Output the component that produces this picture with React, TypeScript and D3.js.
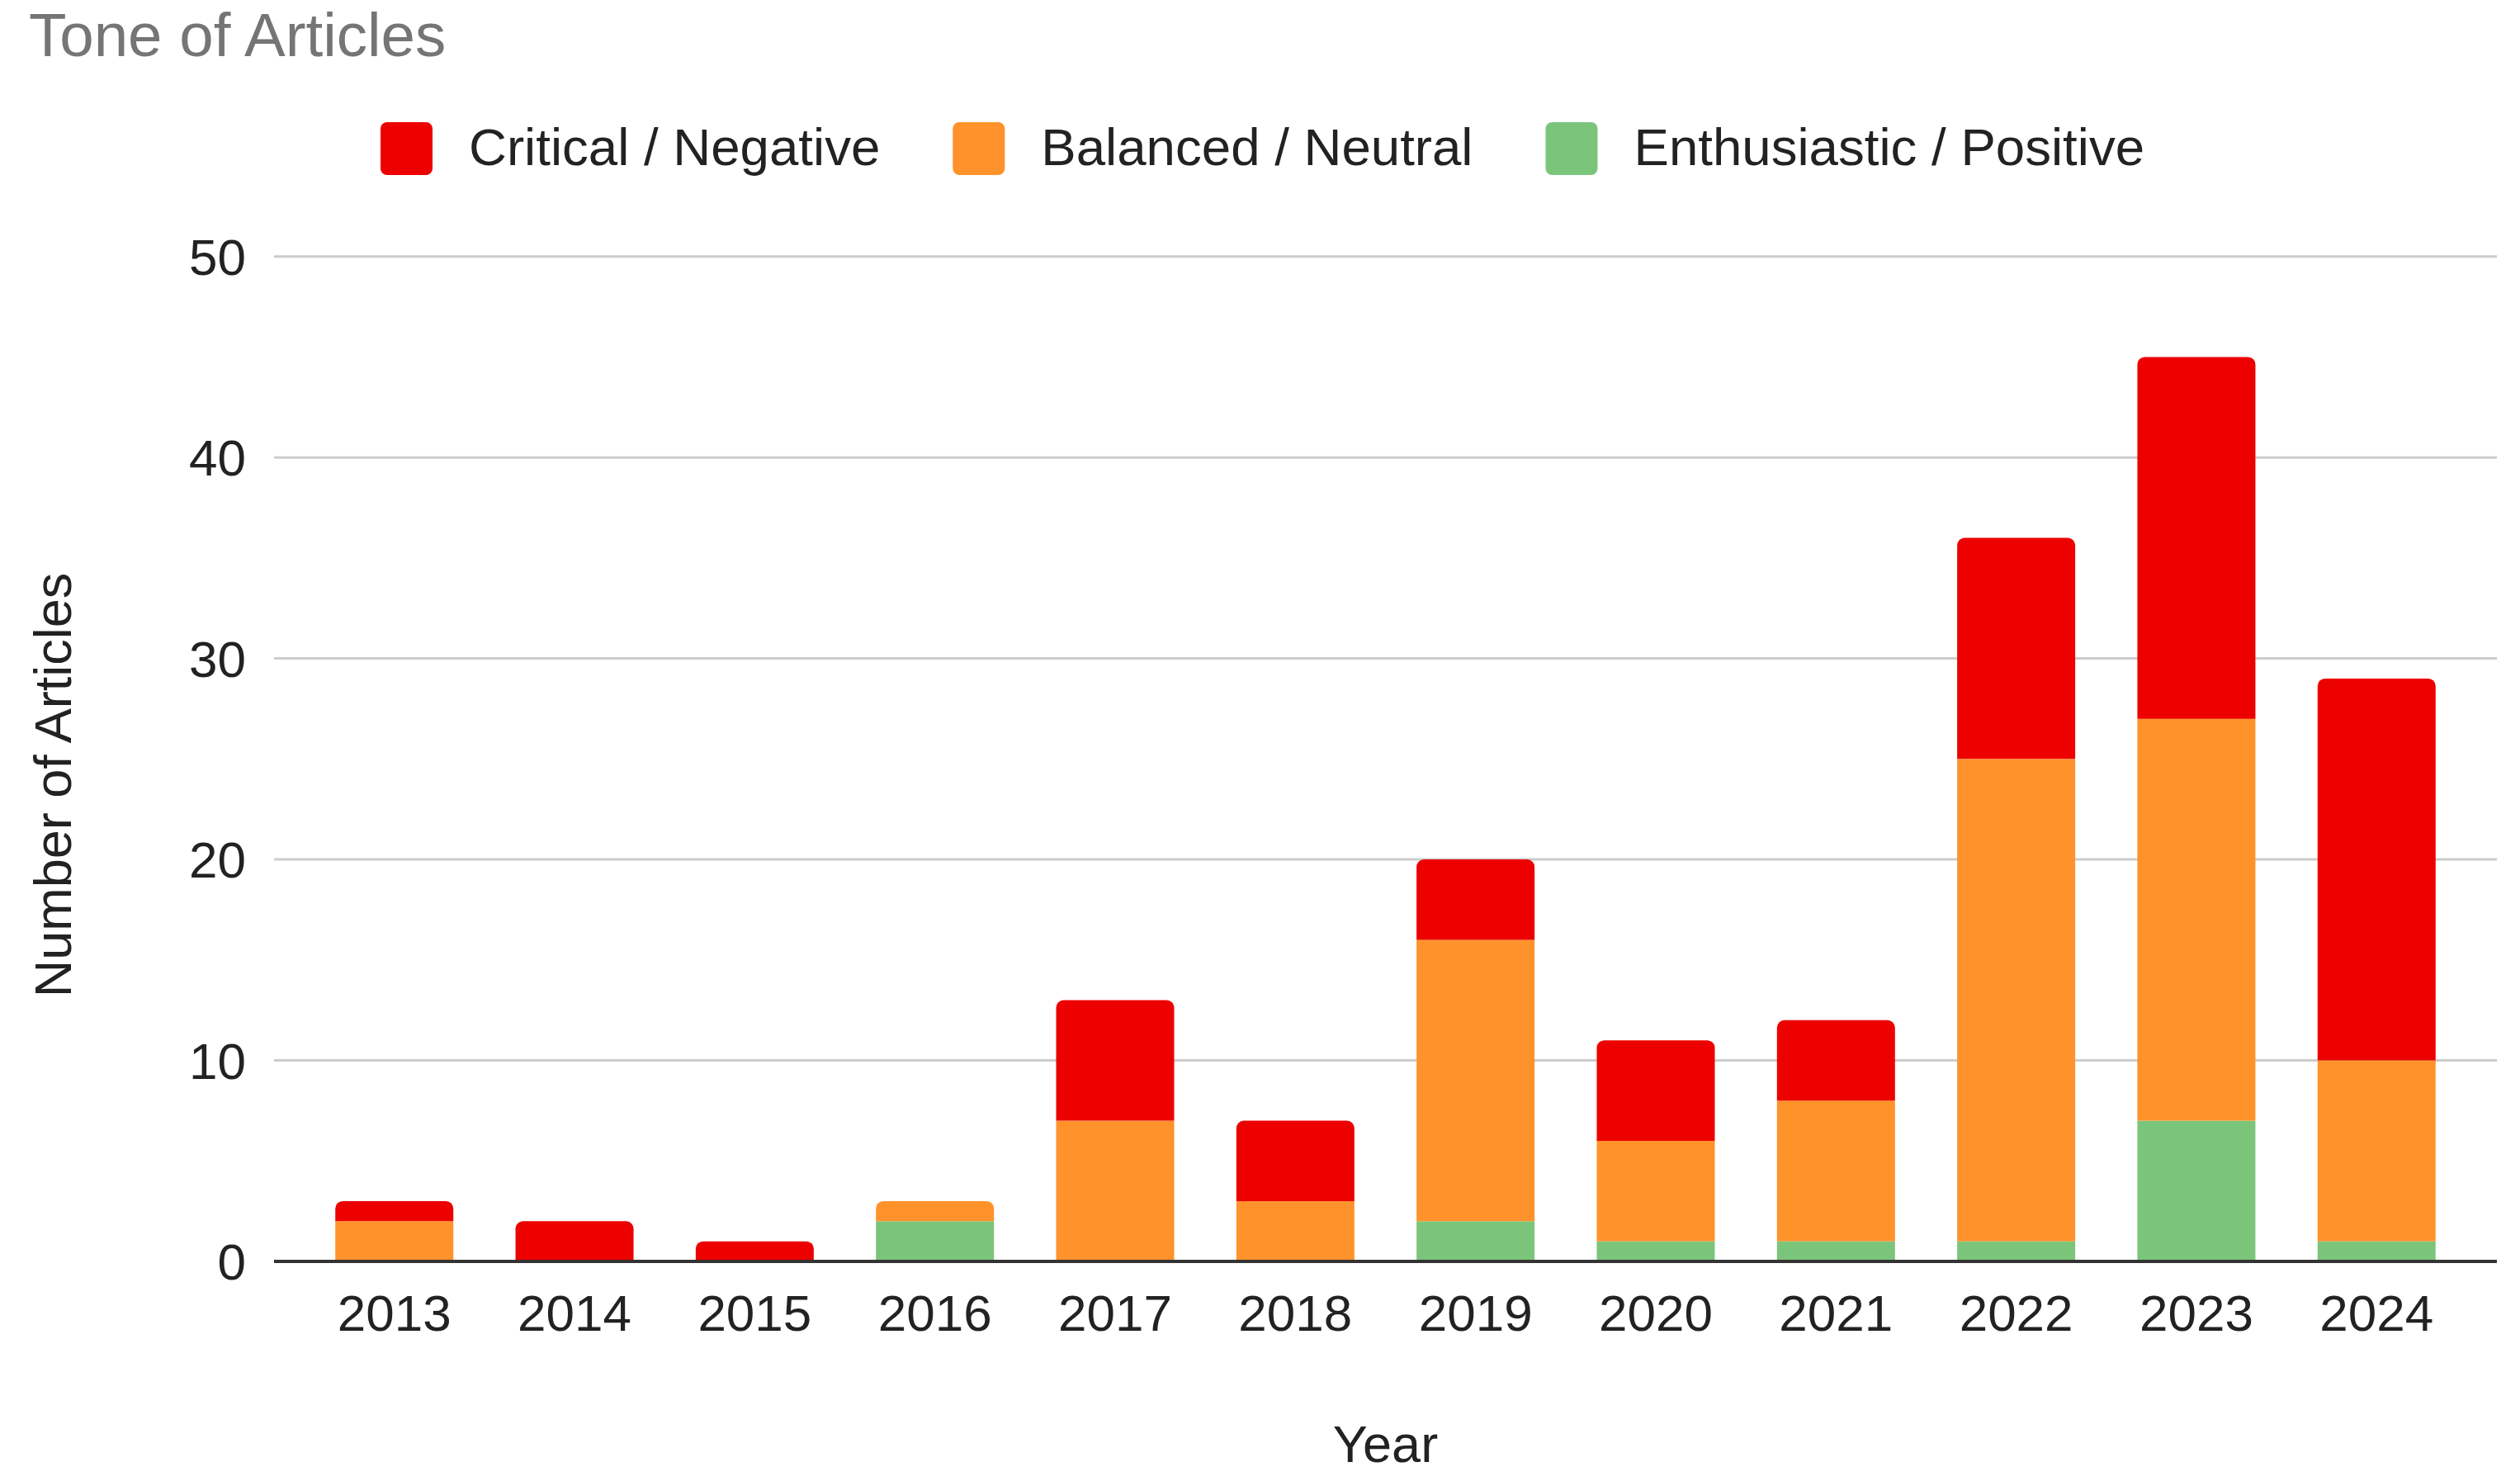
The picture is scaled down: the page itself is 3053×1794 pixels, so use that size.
import React, { useEffect, useMemo } from 'react';
import * as d3 from 'd3';

const years = ['2013', '2014', '2015', '2016', '2017', '2018', '2019', '2020', '2021', '2022', '2023', '2024'];
const positiveCounts = [0, 0, 0, 2, 0, 0, 2, 1, 1, 1, 7, 1];
const neutralCounts = [2, 0, 0, 1, 7, 3, 14, 5, 7, 24, 20, 9];
const negativeCounts = [1, 2, 1, 0, 6, 4, 4, 5, 4, 11, 18, 19];
const seriesKeys = ['positive', 'neutral', 'negative'];
const seriesLabels: Record<string, string> = {
  negative: 'Critical / Negative',
  neutral: 'Balanced / Neutral',
  positive: 'Enthusiastic / Positive',
};
const seriesColors: Record<string, string> = {
  negative: '#ec0000',
  neutral: '#ff922b',
  positive: '#7bc57b',
};
const legendOrder = ['negative', 'neutral', 'positive'];
const yTicks = [0, 10, 20, 30, 40, 50];

const W = 3053;
const H = 1794;
const FONT = "'Liberation Sans', Arial, Helvetica, sans-serif";

function topRounded(x: number, y: number, w: number, h: number, r: number) {
  const rr = Math.min(r, h, w / 2);
  return `M${x},${y + h}V${y + rr}A${rr},${rr} 0 0 1 ${x + rr},${y}H${x + w - rr}A${rr},${rr} 0 0 1 ${x + w},${y + rr}V${y + h}Z`;
}

function measure(text: string, size: number) {
  const c = document.createElement('canvas').getContext('2d');
  if (!c) return text.length * size * 0.5;
  c.font = `${size}px ${FONT}`;
  return c.measureText(text).width;
}

export default function App() {
  useEffect(() => {
    document.body.style.margin = '0';
  }, []);

  const data = years.map((y, i) => ({
    year: y,
    positive: positiveCounts[i],
    neutral: neutralCounts[i],
    negative: negativeCounts[i],
  }));

  const left = 332;
  const right = 3025;
  const x = d3.scaleBand<string>().domain(years).range([left, right]).paddingInner(0.345).paddingOuter(0.34);
  const y = d3.scaleLinear().domain([0, 50]).range([1528, 310.7]);

  const stacked = d3.stack<any>().keys(seriesKeys)(data as any);

  const topKey = data.map((d: any) => {
    let k = '';
    seriesKeys.forEach((s) => {
      if (d[s] > 0) k = s;
    });
    return k;
  });

  const legendSize = 63.6;
  const legendItems = useMemo(() => {
    let cx = 461;
    return legendOrder.map((k) => {
      const tw = measure(seriesLabels[k], legendSize);
      const item = { key: k, x: cx, textX: cx + 63 + 44, tw };
      cx = cx + 63 + 44 + tw + 88;
      return item;
    });
  }, []);

  return (
    <svg width={W} height={H} style={{ display: 'block', background: '#fff' }} fontFamily={FONT}>
      <text x={35} y={68} fontSize={74.5} fill="#757575">Tone of Articles</text>

      {legendItems.map((it) => (
        <g key={it.key}>
          <rect x={it.x} y={148} width={63} height={64} rx={8} fill={seriesColors[it.key]} />
          <text x={it.textX} y={200} fontSize={legendSize} fill="#222">{seriesLabels[it.key]}</text>
        </g>
      ))}

      {yTicks.filter((t) => t !== 0).map((t) => (
        <line key={t} x1={left} x2={right} y1={y(t)} y2={y(t)} stroke="#cccccc" strokeWidth={3} />
      ))}
      {yTicks.map((t) => (
        <text key={'l' + t} x={298} y={y(t) + 22} fontSize={62} textAnchor="end" fill="#222">{t}</text>
      ))}

      {stacked.map((layer) => (
        <g key={layer.key} fill={seriesColors[layer.key]}>
          {layer.map((seg: any, i: number) => {
            const v = seg[1] - seg[0];
            if (v <= 0) return null;
            const bx = x(years[i]) as number;
            const bw = x.bandwidth();
            const y0 = y(seg[1]);
            const h = y(seg[0]) - y(seg[1]);
            if (topKey[i] === layer.key) {
              return <path key={i} d={topRounded(bx, y0, bw, h, 9)} />;
            }
            return <rect key={i} x={bx} y={y0} width={bw} height={h} />;
          })}
        </g>
      ))}

      <line x1={left} x2={right} y1={y(0)} y2={y(0)} stroke="#333333" strokeWidth={4} />

      {years.map((yr) => (
        <text key={yr} x={(x(yr) as number) + x.bandwidth() / 2} y={1612} fontSize={62} textAnchor="middle" fill="#222">{yr}</text>
      ))}

      <text x={(left + right) / 2} y={1771} fontSize={63} textAnchor="middle" fill="#222">Year</text>
      <text transform={`translate(86, 951) rotate(-90)`} fontSize={63} textAnchor="middle" fill="#222">Number of Articles</text>
    </svg>
  );
}
